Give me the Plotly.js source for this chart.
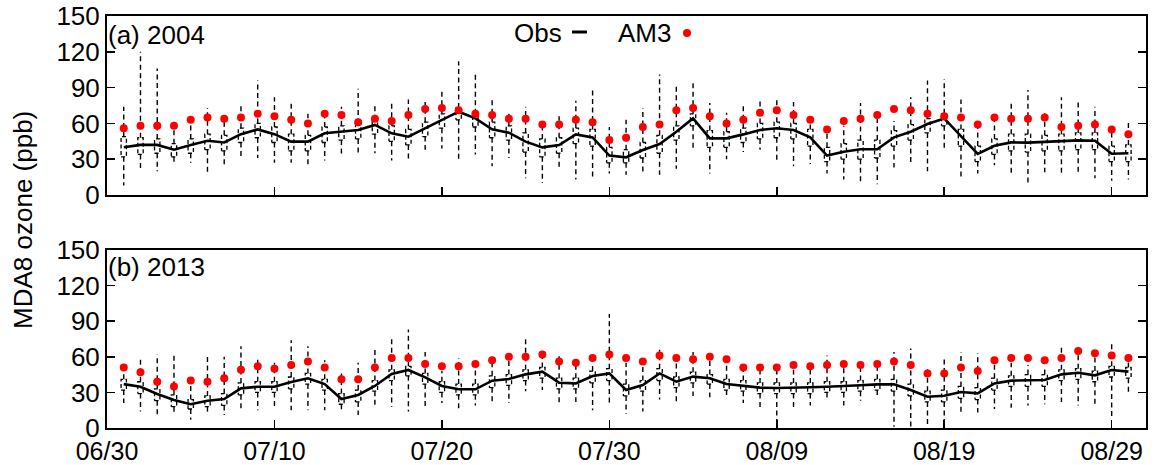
<!DOCTYPE html>
<html>
<head>
<meta charset="utf-8">
<script src="https://cdn.plot.ly/plotly-3.0.1.min.js"></script>
<style>html,body{margin:0;padding:0;background:#fff}#chart{width:1156px;height:465px}</style>
</head>
<body>
<div id="chart"></div>
<script>
// Day index (0 = 06/30)
const days = [1,2,3,4,5,6,7,8,9,10,11,12,13,14,15,16,17,18,19,20,21,22,23,24,25,26,27,28,29,30,31,32,33,34,35,36,37,38,39,40,41,42,43,44,45,46,47,48,49,50,51,52,53,54,55,56,57,58,59,60,61];
const tickVals = [0,10,20,30,40,50,60];
const tickLabels = ['06/30','07/10','07/20','07/30','08/09','08/19','08/29'];
const yTicks = [0,30,60,90,120,150];

// (a) 2004
const obsMed2004 = [40,42,42,38,42,45.5,44,51,55,51,44.7,44.7,51.7,53,54.5,58.7,51.7,48.9,55.9,62.8,69.8,64.2,55,52.2,44.7,39.9,41.9,50.8,48.3,33,31.6,37.7,42.7,53,64.2,47.5,47.5,50.8,54.5,55.9,54.5,48.3,33,36.3,38.3,38.3,48.3,53,59.5,64.2,48.9,34.4,41.3,44.1,43.9,44.4,45,45.8,45.5,34.6,35];
const obsQ3_2004 = [49,48,47,43,47,51,50,56,60,57,51,50,57,58,60,63,58,55,61,68,73,68,61,58,52,47,48,56,55,40,38,44,50,58,68,54,53,56,60,61,60,55,40,43,46,46,54,59,64,68,55,41,47,51,51,50,51,52,52,41,42];
const obsQ1_2004 = [32,34,35,32,35,38,37,44,48,44,37,37,44,46,47,51,45,42,49,56,63,57,48,46,36,32,35,43,41,27,27,31,35,46,58,40,40,44,47,48,47,41,28,30,30,31,41,46,52,58,41,28,34,37,36,37,37,38,38,28,28];
const obsHi2004 = [74,120,106,60,63,73,67,75,96,82,79,68,70,74,89,77,79,80,78,88,112,101,80,68,74,62,66,79,89,57,63,73,101,92,95,77,69,76,80,82,78,66,56,58,77,66,62,82,96,97,80,62,66,79,88,70,82,80,74,56,63];
const obsLo2004 = [8,21,20,25,27,17,24,31,31,27,27,24,29,32,34,35,29,30,38,39,30,34,24,31,14,10,22,13,15,18,17,18,17,22,37,18,30,36,38,29,24,26,18,13,11,9,23,26,20,39,13,18,25,18,10,19,18,19,14,12,13];
const am3_2004 = [56,58,58,58,63,65,64,65,68,66,63,60,68,67,61,64,62,67,72,73,71,68,67,64,64,59,59,63,61,46,48,57,59,71,73,66,60,63,69,71,67,63,55,62,64,67,72,71,68,66,65,59,65,64,64,65,57,58,59,55,51];

// (b) 2013
const obsMed2013 = [37,34.8,28.7,23.6,20,23,24.4,33.4,34.8,34.8,38.8,41.9,37,24.4,27.8,35.4,45.5,48.9,42.7,35.4,32.6,32.6,39.9,41.3,45.2,47.5,38.2,37.6,43.8,46,32,36.2,46,39,43.3,41.9,37,35.7,34,33.7,33.7,34.3,34.8,35.1,36,36.8,36.8,32,26.4,27.2,30.3,29.2,37.6,39.9,40.4,40.4,45.2,46.6,44.4,48.9,47.5];
const obsQ3_2013 = [41,39,33,28,24,27,29,38,39,39,43,46,41,29,32,40,49,52,46,39,37,37,44,45,49,51,42,42,48,50,37,40,50,43,47,45,41,40,38,38,38,38,39,39,40,41,41,37,31,32,35,34,42,44,45,45,49,50,48,52,51];
const obsQ1_2013 = [32,29,23,18,16,18,19,28,30,30,33,37,32,20,22,31,40,44,37,30,28,28,34,36,40,42,33,33,38,40,27,31,40,34,38,37,32,31,29,29,29,29,30,30,31,32,31,27,22,22,25,24,32,35,35,35,40,41,39,43,42];
const obsHi2013 = [54,58,62,62,42,62,60,69,59,55,74,69,57,46,55,67,76,83,64,48,59,55,60,57,75,62,63,56,55,96,55,53,66,60,64,57,56,50,49,50,49,49,61,55,50,55,64,67,52,59,64,63,55,55,53,52,69,62,60,71,65];
const obsLo2013 = [21,14,10,12,7,13,11,14,15,18,15,15,15,13,11,18,18,14,17,21,15,19,21,21,31,32,20,22,15,21,12,14,24,22,27,26,25,21,17,3,15,19,24,19,23,26,1,1,1,0,11,13,16,17,19,20,22,19,19,8,30];
const am3_2013 = [51,47,39,35,40,39,42,49,52,50,53,56,51,41,41,51,59,59,54,52,52,54,57,60,60,62,56,55,59,62,59,56,61,59,58,60,58,51,51,51,53,52,53,54,53,54,56,53,46,46,51,48,57,59,59,57,59,65,63,61,59];

const HALF = 0.16;
const FONT = 'Liberation Sans, Arial, sans-serif';
const FS = 26;
const DASH = '5px,3.5px';

function panelTraces(med, q1, q3, lo, hi, am3, xa, ya) {
  const wx = [], wy = [], bx = [], by = [];
  days.forEach((d, i) => {
    wx.push(d, d, null, d, d, null);
    wy.push(q3[i], hi[i], null, q1[i], lo[i], null);
    bx.push(d - HALF, d + HALF, d + HALF, d - HALF, d - HALF, null);
    by.push(q1[i], q1[i], q3[i], q3[i], q1[i], null);
  });
  return [
    {x: wx, y: wy, xaxis: xa, yaxis: ya, mode: 'lines', type: 'scatter',
     line: {color: '#000', width: 1.4, dash: DASH}, hoverinfo: 'skip', showlegend: false},
    {x: bx, y: by, xaxis: xa, yaxis: ya, mode: 'lines', type: 'scatter',
     line: {color: '#000', width: 1.3, dash: '4px,2.5px'}, hoverinfo: 'skip', showlegend: false},
    {x: days, y: med, xaxis: xa, yaxis: ya, mode: 'lines', type: 'scatter',
     line: {color: '#000', width: 2.6}, name: 'Obs', showlegend: false},
    {x: days, y: am3, xaxis: xa, yaxis: ya, mode: 'markers', type: 'scatter',
     marker: {color: '#ff0000', size: 8}, name: 'AM3', showlegend: false}
  ];
}

const data = [
  ...panelTraces(obsMed2004, obsQ1_2004, obsQ3_2004, obsLo2004, obsHi2004, am3_2004, 'x2', 'y2'),
  ...panelTraces(obsMed2013, obsQ1_2013, obsQ3_2013, obsLo2013, obsHi2013, am3_2013, 'x', 'y')
];

const xCommon = {
  range: [0, 62.05], tickmode: 'array', tickvals: tickVals, ticktext: tickLabels,
  ticks: 'inside', ticklen: 8, tickwidth: 1.5, tickcolor: '#000',
  showline: true, linecolor: '#000', linewidth: 2, mirror: true,
  showgrid: false, zeroline: false, tickfont: {family: FONT, size: 25, color: '#000'}
};
const yCommon = {
  range: [0, 150], tickmode: 'array', tickvals: yTicks,
  ticks: 'inside', ticklen: 8, tickwidth: 1.5, tickcolor: '#000',
  showline: true, linecolor: '#000', linewidth: 2, mirror: 'ticks',
  showgrid: false, zeroline: false, tickfont: {family: FONT, size: FS, color: '#000'}
};

const layout = {
  width: 1156, height: 465,
  margin: {l: 107, r: 10, t: 16, b: 37},
  paper_bgcolor: '#fff', plot_bgcolor: '#fff',
  showlegend: false,
  font: {family: FONT, color: '#000'},
  xaxis: Object.assign({}, xCommon, {anchor: 'y', domain: [0, 1]}),
  xaxis2: Object.assign({}, xCommon, {anchor: 'y2', domain: [0, 1], matches: 'x', showticklabels: false}),
  yaxis: Object.assign({}, yCommon, {anchor: 'x', domain: [0, 0.432]}),
  yaxis2: Object.assign({}, yCommon, {anchor: 'x2', domain: [0.5655, 1]}),
  annotations: [
    {text: 'MDA8 ozone (ppb)', xref: 'paper', yref: 'paper', x: 0, y: 0.505, xshift: -84,
     xanchor: 'center', yanchor: 'middle', textangle: -90, showarrow: false,
     font: {family: FONT, size: FS, color: '#000'}},
    {text: '(a) 2004', xref: 'paper', yref: 'paper', x: 0, y: 1, xanchor: 'left', yanchor: 'top',
     xshift: -1, yshift: -2, showarrow: false, font: {family: FONT, size: FS, color: '#000'}},
    {text: '(b) 2013', xref: 'paper', yref: 'paper', x: 0, y: 0.432, xanchor: 'left', yanchor: 'top',
     xshift: -1, yshift: 0, showarrow: false, font: {family: FONT, size: FS, color: '#000'}},
    {text: 'Obs', xref: 'paper', yref: 'paper', x: (564 - 107) / 1039, y: (428 - 33) / 412,
     xanchor: 'right', yanchor: 'middle', showarrow: false, font: {family: FONT, size: FS, color: '#000'}},
    {text: 'AM3', xref: 'paper', yref: 'paper', x: (673 - 107) / 1039, y: (428 - 33) / 412,
     xanchor: 'right', yanchor: 'middle', showarrow: false, font: {family: FONT, size: FS, color: '#000'}}
  ],
  shapes: [
    {type: 'line', xref: 'paper', yref: 'paper', x0: (572 - 107) / 1039, x1: (587 - 107) / 1039,
     y0: (428 - 32) / 412, y1: (428 - 32) / 412, line: {color: '#000', width: 3}},
    {type: 'circle', xref: 'paper', yref: 'paper', x0: (683 - 107) / 1039, x1: (691 - 107) / 1039,
     y0: (428 - 37) / 412, y1: (428 - 29) / 412, fillcolor: '#ff0000', line: {width: 0}}
  ]
};

Plotly.newPlot('chart', data, layout, {displayModeBar: false, staticPlot: true});
</script>
</body>
</html>
